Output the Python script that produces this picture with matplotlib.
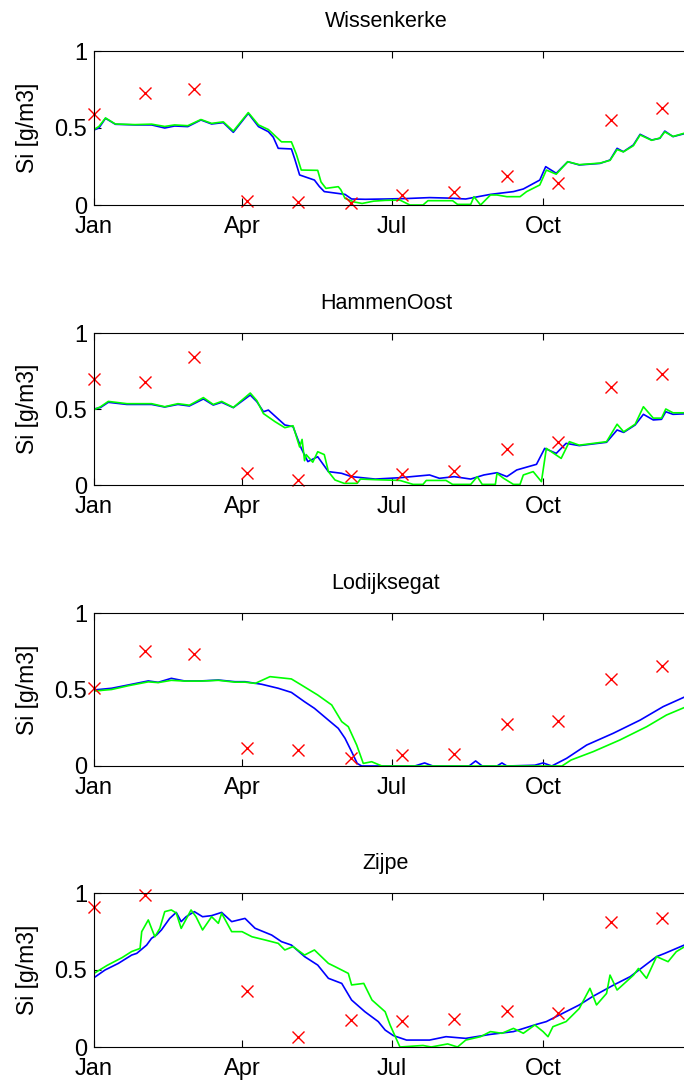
import matplotlib
matplotlib.use("Agg")
import matplotlib.pyplot as plt

plt.rcParams['font.family'] = ['Liberation Sans', 'DejaVu Sans']

# station names
stations = ["Wissenkerke", "HammenOost", "Lodijksegat", "Zijpe"]

month_days = [0, 90, 181, 273]
month_labels = ["Jan", "Apr", "Jul", "Oct"]

# observations (red crosses)
obs_days = [0, 31, 61, 93, 124, 156, 187, 219, 251, 282, 314, 345]
obs_days_zijpe = [0, 31, 93, 124, 156, 187, 219, 251, 282, 314, 345]
obs_wis = [0.59, 0.73, 0.755, 0.025, 0.02, 0.01, 0.065, 0.085, 0.19, 0.145, 0.55, 0.63]
obs_ham = [0.695, 0.68, 0.84, 0.077, 0.033, 0.06, 0.07, 0.094, 0.235, 0.28, 0.645, 0.73]
obs_lod = [0.51, 0.75, 0.735, 0.12, 0.105, 0.05, 0.07, 0.078, 0.272, 0.294, 0.57, 0.655]
obs_zij = [0.91, 0.99, 0.365, 0.067, 0.175, 0.17, 0.18, 0.236, 0.22, 0.81, 0.84]

# model run 1 (blue)
wis_blue_days = [0, 3, 7, 13, 25, 35, 43, 49, 57, 65, 71.5, 78.6, 84.7, 93.8, 100,
                 106, 109, 112, 120, 122, 125, 134, 137, 140, 152.6, 156.6, 165, 177, 190, 204,
                 215, 226, 241, 255, 261, 271, 274.6, 281, 288, 295, 307.6, 313.7, 318, 321.8, 327.9,
                 332, 339, 344, 347, 352, 365]
wis_blue = [0.487, 0.50, 0.563, 0.524, 0.52, 0.52, 0.50, 0.513, 0.509, 0.552, 0.526, 0.535, 0.472, 0.595, 0.509,
            0.476, 0.44, 0.368, 0.364, 0.30, 0.195, 0.162, 0.12, 0.087, 0.069, 0.039, 0.037, 0.039, 0.042, 0.048,
            0.045, 0.039, 0.069, 0.087, 0.104, 0.162, 0.249, 0.206, 0.281, 0.26, 0.27, 0.292, 0.368, 0.346, 0.39,
            0.459, 0.422, 0.433, 0.48, 0.444, 0.48]

ham_blue_days = [0, 4, 8.7, 20, 35, 43, 51, 58, 66.5, 72.5, 77.6, 84.7, 95, 99, 103,
                 106, 116, 121, 126, 130, 136, 142.5, 150.5, 156.6, 171, 186, 204, 210, 219, 229,
                 237, 245, 251, 257, 269, 274, 281, 287, 295, 311.6, 318, 322, 329, 334, 340,
                 345, 347.6, 352, 365]
ham_blue = [0.50, 0.51, 0.544, 0.53, 0.53, 0.513, 0.53, 0.52, 0.566, 0.526, 0.544, 0.509, 0.592, 0.548, 0.482,
            0.493, 0.395, 0.384, 0.241, 0.154, 0.186, 0.088, 0.077, 0.055, 0.039, 0.048, 0.066, 0.044, 0.055, 0.039,
            0.066, 0.081, 0.055, 0.099, 0.136, 0.241, 0.208, 0.274, 0.259, 0.281, 0.362, 0.346, 0.395, 0.465, 0.428,
            0.432, 0.482, 0.465, 0.471]

lod_blue_days = [0, 10.7, 21, 33, 39, 47, 55, 65, 75.6, 85.7, 91.8, 102, 112, 120, 128,
                 134, 142.5, 148.5, 152.6, 156.6, 160, 162.7, 175, 195, 201, 206, 228, 232, 236, 245,
                 248, 251, 268, 273, 278.3, 287.3, 299.5, 315.7, 332, 346, 365]
lod_blue = [0.497, 0.508, 0.53, 0.556, 0.547, 0.573, 0.556, 0.556, 0.562, 0.551, 0.551, 0.534, 0.508, 0.481, 0.42,
            0.377, 0.30, 0.246, 0.181, 0.094, 0.017, 0.0, 0.0, 0.0, 0.02, 0.0, 0.0, 0.033, 0.0, 0.0,
            0.02, 0.0, 0.005, 0.02, 0.0, 0.05, 0.137, 0.214, 0.30, 0.388, 0.48]

zij_blue_days = [0, 6.7, 14.8, 22.9, 26, 32, 35, 38, 41, 46, 50, 53, 56, 61, 66,
                 71.5, 77.6, 83.7, 91.8, 97.9, 108, 114, 120, 128, 136, 142.5, 150.6, 156.6, 164.7, 172.8,
                 177, 182, 190, 204, 214, 226, 241, 255, 269, 275, 285, 295, 303, 316, 326,
                 334, 342, 347, 365]
zij_blue = [0.45, 0.50, 0.543, 0.597, 0.608, 0.662, 0.706, 0.727, 0.76, 0.835, 0.874, 0.814, 0.846, 0.879, 0.846,
            0.853, 0.874, 0.814, 0.835, 0.771, 0.727, 0.684, 0.662, 0.587, 0.532, 0.446, 0.413, 0.305, 0.229, 0.165,
            0.11, 0.074, 0.045, 0.045, 0.067, 0.056, 0.082, 0.10, 0.147, 0.165, 0.219, 0.273, 0.327, 0.403, 0.457,
            0.522, 0.587, 0.608, 0.69]

# model run 2 (green)
wis_green_days = [0, 3, 7, 13, 25, 35, 43, 49, 57, 65, 71.5, 78.6, 84.7, 93.8, 100,
                  106, 110, 114, 120, 123, 126, 136, 138, 141, 148.5, 150, 152.6, 158, 163, 170,
                  177, 186, 192, 200, 203, 218, 221, 229, 231, 235, 241, 245, 251, 259, 263,
                  271, 275, 281, 288, 295, 307.6, 313.7, 318, 321.8, 327.9, 332, 339, 344, 347, 352, 365]
wis_green = [0.49, 0.51, 0.565, 0.526, 0.522, 0.525, 0.51, 0.52, 0.515, 0.555, 0.53, 0.54, 0.48, 0.60, 0.52,
             0.49, 0.45, 0.41, 0.41, 0.33, 0.227, 0.225, 0.15, 0.108, 0.119, 0.10, 0.043, 0.02, 0.01, 0.025,
             0.03, 0.032, 0.0, 0.0, 0.028, 0.028, 0.004, 0.004, 0.054, 0.0, 0.065, 0.065, 0.054, 0.054, 0.087,
             0.13, 0.227, 0.20, 0.281, 0.262, 0.272, 0.29, 0.36, 0.345, 0.385, 0.455, 0.42, 0.435, 0.475, 0.445, 0.485]

ham_green_days = [0, 4, 8.7, 20, 35, 43, 51, 58, 66.5, 72.5, 77.6, 84.7, 95, 99, 103,
                  110, 116, 121, 125, 126.5, 128, 129, 133, 136, 140, 142.5, 146.5, 152, 160, 162,
                  171, 186, 194, 200, 202, 214, 218, 229, 233, 236, 244, 245, 249, 255, 259,
                  261, 267, 272, 275, 284, 289, 295, 311.6, 318, 322, 329, 334, 340, 345, 347.6, 352, 365]
ham_green = [0.495, 0.515, 0.55, 0.535, 0.535, 0.515, 0.535, 0.525, 0.575, 0.53, 0.55, 0.51, 0.605, 0.555, 0.47,
             0.417, 0.377, 0.39, 0.25, 0.30, 0.16, 0.20, 0.15, 0.219, 0.20, 0.088, 0.033, 0.011, 0.011, 0.039,
             0.035, 0.03, 0.004, 0.004, 0.03, 0.03, 0.004, 0.004, 0.055, 0.004, 0.004, 0.077, 0.044, 0.004, 0.004,
             0.066, 0.088, 0.022, 0.241, 0.175, 0.285, 0.262, 0.285, 0.40, 0.35, 0.40, 0.515, 0.44, 0.44, 0.50, 0.475, 0.475]

lod_green_days = [0, 10.7, 21, 33, 39, 47, 55, 65, 75.6, 85.7, 91.8, 98, 107, 120, 126,
                  136, 144.5, 150.6, 154.6, 159.7, 163.7, 168.8, 175, 284.5, 290, 303.5, 319.7, 336, 348, 365]
lod_green = [0.49, 0.5, 0.525, 0.55, 0.545, 0.56, 0.555, 0.555, 0.56, 0.548, 0.548, 0.54, 0.584, 0.569, 0.53,
             0.464, 0.399, 0.29, 0.257, 0.137, 0.017, 0.028, 0.0, 0.0, 0.039, 0.094, 0.17, 0.257, 0.333, 0.41]

zij_green_days = [0, 8, 17, 22.9, 28, 29, 33, 35, 37, 40, 43, 47, 50, 53, 59,
                  62, 66, 71.5, 75.6, 77.6, 83.7, 90, 96, 104, 112, 116, 121, 128, 134, 142.5,
                  146.5, 154.6, 156.6, 164, 169, 177, 180, 186, 200, 205, 215, 221, 226, 235, 241,
                  248, 255, 261, 268, 273, 276, 279, 287, 295, 301.5, 305.5, 311.6, 313.7, 318, 328,
                  331, 335.9, 342, 349, 354, 365]
zij_green = [0.478, 0.53, 0.58, 0.62, 0.64, 0.749, 0.825, 0.77, 0.716, 0.77, 0.879, 0.89, 0.87, 0.77, 0.89,
             0.846, 0.76, 0.846, 0.803, 0.868, 0.749, 0.749, 0.716, 0.695, 0.673, 0.63, 0.652, 0.597, 0.63, 0.543,
             0.522, 0.478, 0.403, 0.413, 0.305, 0.229, 0.143, 0.0, 0.01, 0.0, 0.02, 0.0, 0.045, 0.067, 0.10,
             0.089, 0.121, 0.089, 0.143, 0.10, 0.067, 0.132, 0.165, 0.25, 0.381, 0.273, 0.348, 0.467, 0.37, 0.467,
             0.51, 0.446, 0.587, 0.554, 0.619, 0.69]

panels = [
    (wis_blue_days, wis_blue, wis_green_days, wis_green, obs_days, obs_wis),
    (ham_blue_days, ham_blue, ham_green_days, ham_green, obs_days, obs_ham),
    (lod_blue_days, lod_blue, lod_green_days, lod_green, obs_days, obs_lod),
    (zij_blue_days, zij_blue, zij_green_days, zij_green, obs_days_zijpe, obs_zij),
]

fig = plt.figure(figsize=(6.84, 10.86), dpi=100)

# axes boxes in pixels (top, bottom) of the 684x1086 figure
W, H = 684.0, 1086.0
left_px = 94.0
width_px = 600.4
boxes = [(51, 205), (333, 485), (613, 766), (893, 1047)]

for name, (top, bot), (bd, bv, gd, gv, od, ov) in zip(stations, boxes, panels):
    ax = fig.add_axes([left_px / W, 1 - bot / H, width_px / W, (bot - top) / H])
    ax.plot(bd, bv, color="#0000ff", lw=1.2)
    ax.plot(gd, gv, color="#00ff00", lw=1.2)
    ax.plot(od, ov, "x", color="#ff0000", ms=8, mew=1.0, clip_on=False)
    ax.set_xlim(0, 365)
    ax.set_ylim(0, 1)
    ax.set_xticks(month_days)
    ax.set_xticklabels(month_labels)
    ax.set_yticks([0, 0.5, 1])
    ax.set_yticklabels(["0", "0.5", "1"])
    ax.tick_params(direction="in", top=True, right=True, length=5, width=0.8,
                   labelsize=17)
    ax.tick_params(axis="x", pad=8)
    ax.tick_params(axis="y", pad=5)
    for s in ax.spines.values():
        s.set_linewidth(0.8)
    ax.set_ylabel("Si [g/m3]", fontsize=16.5, labelpad=11)
    ax.set_title(name, fontsize=15.5, pad=17, x=(386 - left_px) / width_px)

fig.savefig("out.png", dpi=100)
